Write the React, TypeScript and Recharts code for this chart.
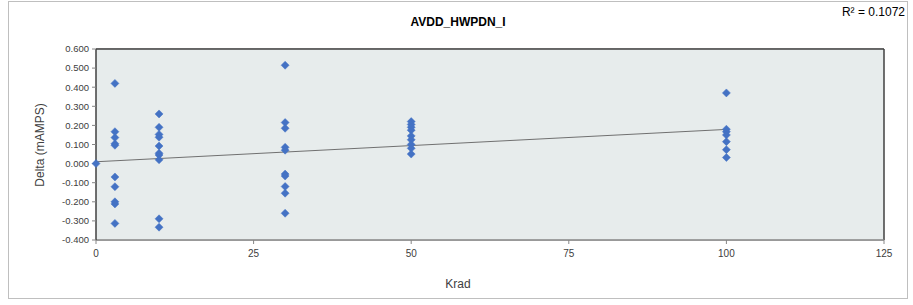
import React from 'react';
import { ScatterChart, Scatter, XAxis, YAxis, CartesianGrid, Customized } from 'recharts';

const krad3 = [0.42, 0.167, 0.136, 0.104, 0.096, -0.07, -0.121, -0.2, -0.211, -0.313];
const krad10 = [0.26, 0.19, 0.153, 0.138, 0.092, 0.054, 0.045, 0.02, -0.289, -0.333];
const krad30 = [0.515, 0.215, 0.185, 0.085, 0.07, -0.055, -0.065, -0.12, -0.155, -0.26];
const krad50 = [0.22, 0.205, 0.19, 0.175, 0.145, 0.125, 0.1, 0.08, 0.05];
const krad100 = [0.37, 0.18, 0.167, 0.15, 0.115, 0.073, 0.032];
const krad0 = [0.0];

const xTicks = [0, 25, 50, 75, 100, 125];
const yTicks = [-0.4, -0.3, -0.2, -0.1, 0, 0.1, 0.2, 0.3, 0.4, 0.5, 0.6];
const title = 'AVDD_HWPDN_I';
const r2Label = 'R² = 0.1072';
const xLabel = 'Krad';
const yLabel = 'Delta (mAMPS)';

const groups: [number, number[]][] = [
  [0, krad0],
  [3, krad3],
  [10, krad10],
  [30, krad30],
  [50, krad50],
  [100, krad100],
];

const points = groups.flatMap(([x, ys]) => ys.map((y) => ({ x, y })));

// least-squares trendline
const n = points.length;
const mx = points.reduce((s, p) => s + p.x, 0) / n;
const my = points.reduce((s, p) => s + p.y, 0) / n;
const sxy = points.reduce((s, p) => s + (p.x - mx) * (p.y - my), 0);
const sxx = points.reduce((s, p) => s + (p.x - mx) * (p.x - mx), 0);
const slope = sxy / sxx;
const intercept = my - slope * mx;
const trend = [
  { x: 0, y: intercept },
  { x: 100, y: intercept + slope * 100 },
];

const FONT = '"Liberation Sans Narrow", "Liberation Sans", Arial, sans-serif';
const TICKFONT = '"Liberation Sans", Arial, sans-serif';

const Diamond = (props: any) => {
  const { cx, cy } = props;
  if (cx == null || cy == null) return null;
  const r = 4;
  return (
    <polygon
      points={`${cx},${cy - r} ${cx + r},${cy} ${cx},${cy + r} ${cx - r},${cy}`}
      fill="#4472C4"
      stroke="#4472C4"
      strokeWidth={0.5}
    />
  );
};

const NoDot = () => null;

export default function App() {
  return (
    <div style={{ position: 'absolute', left: 0, top: 0, width: 913, height: 305, background: '#fff' }}>
      <div
        style={{
          position: 'absolute',
          left: 8,
          top: 1,
          width: 900,
          height: 298,
          border: '1px solid #bfbfbf',
          boxSizing: 'border-box',
        }}
      />
      <div style={{ position: 'absolute', left: 0, top: 0 }}>
        <ScatterChart width={913} height={305} margin={{ top: 49, right: 29, bottom: 0, left: 46 }}>
          <rect x={96} y={49} width={788} height={191} fill="#E7ECEC" />
          <CartesianGrid horizontal vertical={false} stroke="#A6A6A6" strokeWidth={1} />
          <XAxis
            type="number"
            dataKey="x"
            domain={[0, 125]}
            ticks={xTicks}
            interval={0}
            tick={{ fill: '#404040', fontSize: 10, fontFamily: TICKFONT }}
            tickLine={{ stroke: '#868686' }}
            tickSize={4}
            tickMargin={6}
            axisLine={{ stroke: '#868686', strokeWidth: 1.5 }}
            height={65}
          />
          <YAxis
            type="number"
            dataKey="y"
            domain={[-0.4, 0.6]}
            ticks={yTicks}
            interval={0}
            tickFormatter={(v: number) => v.toFixed(3)}
            tick={{ fill: '#404040', fontSize: 9.5, fontFamily: TICKFONT }}
            tickLine={{ stroke: '#868686' }}
            tickSize={4}
            tickMargin={3}
            axisLine={{ stroke: '#404040', strokeWidth: 1.5 }}
            width={50}
          />
          <Customized
            component={() => (
              <g>
                <line x1={96} y1={49} x2={884} y2={49} stroke="#404040" strokeWidth={1.5} />
                <line x1={884} y1={49} x2={884} y2={240} stroke="#404040" strokeWidth={1.5} />
              </g>
            )}
          />
          <Scatter
            data={trend}
            line={{ stroke: '#707070', strokeWidth: 1 }}
            shape={NoDot as any}
            isAnimationActive={false}
          />
          <Scatter data={points} shape={Diamond} isAnimationActive={false} />
          <text x={458} y={26} textAnchor="middle" fontFamily={FONT} fontWeight="bold" fontSize={12} fill="#000">
            {title}
          </text>
          <text x={905} y={16} textAnchor="end" fontFamily={FONT} fontSize={12} fill="#000">
            {r2Label}
          </text>
          <text x={458} y={288} textAnchor="middle" fontFamily={TICKFONT} fontSize={12} fill="#404040">
            {xLabel}
          </text>
          <text
            x={0}
            y={0}
            transform="translate(44,145) rotate(-90)"
            textAnchor="middle"
            fontFamily={TICKFONT}
            fontSize={12}
            fill="#404040"
          >
            {yLabel}
          </text>
        </ScatterChart>
      </div>
    </div>
  );
}
